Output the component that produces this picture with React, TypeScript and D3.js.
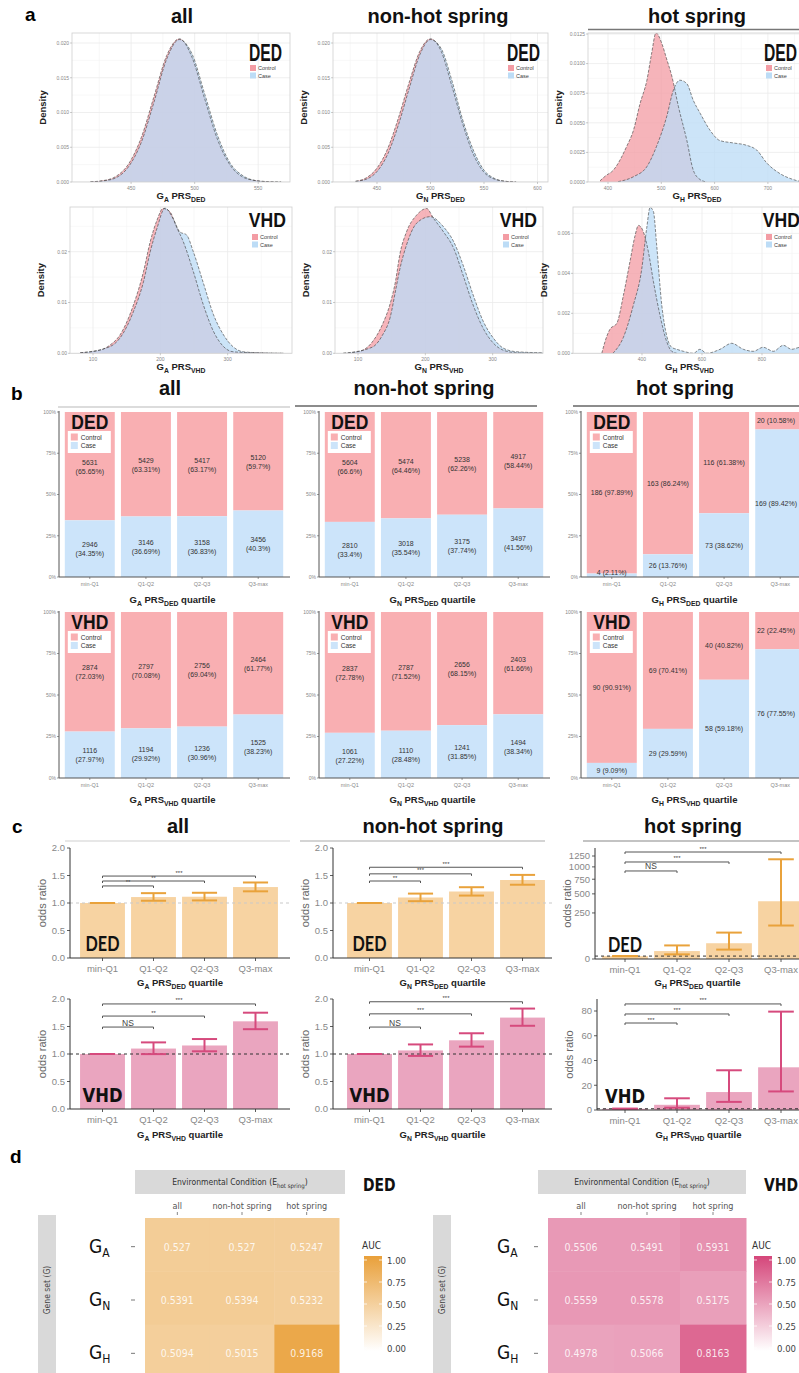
import React from "react";
import * as d3 from "d3";

// ===================== DATA =====================
const quartiles = ["min-Q1", "Q1-Q2", "Q2-Q3", "Q3-max"];
const envConditions = ["all", "non-hot spring", "hot spring"];
const geneSets = ["A", "N", "H"];

// ---- panel a: density curves (PRS value, density)
const aAllDedX = [418, 428, 438, 448, 458, 468, 478, 488, 498, 508, 518, 528, 538, 548, 558, 568];
const aAllDedControl = [0.00003, 0.0002, 0.0008, 0.0026, 0.0064, 0.0123, 0.0182, 0.0206, 0.0179, 0.0119, 0.0061, 0.0024, 0.0007, 0.0002, 0.00004, 0];
const aAllDedCase = [0.00002, 0.00015, 0.0006, 0.0022, 0.0057, 0.0115, 0.0177, 0.0205, 0.0184, 0.0126, 0.0067, 0.0027, 0.0009, 0.0002, 0.00005, 0];

const aNonDedX = [430, 440, 450, 460, 470, 480, 490, 500, 510, 520, 530, 540, 550, 560, 570, 580];
const aNonDedControl = [0.0001, 0.0006, 0.002, 0.0048, 0.0092, 0.0143, 0.0188, 0.0206, 0.0188, 0.0138, 0.0084, 0.004, 0.0014, 0.0004, 0.0001, 0];
const aNonDedCase = [0.0001, 0.0004, 0.0015, 0.004, 0.0082, 0.0134, 0.0183, 0.0205, 0.0192, 0.0146, 0.009, 0.0046, 0.0017, 0.0005, 0.0001, 0];

const aHotDedControlX = [385, 395, 410, 435, 448, 460, 473, 482, 490, 501, 510, 520, 532, 548, 560, 573, 585];
const aHotDedControl = [0.0001, 0.0005, 0.001, 0.003, 0.0044, 0.0066, 0.0086, 0.0109, 0.0126, 0.0117, 0.0104, 0.0089, 0.0064, 0.0035, 0.001, 0.0002, 0];
const aHotDedCaseX = [419, 448, 473, 491, 510, 523, 535, 548, 560, 573, 591, 610, 635, 660, 679, 698, 723, 748, 765];
const aHotDedCase = [0.00003, 0.00045, 0.0013, 0.003, 0.0055, 0.0078, 0.0086, 0.0083, 0.0069, 0.0058, 0.0044, 0.0035, 0.0033, 0.0031, 0.0027, 0.0016, 0.0007, 0.0002, 0];

const aAllVhdControlX = [81, 110, 125, 140, 160, 175, 185, 195, 204, 214, 224, 234, 249, 264, 279, 294, 308, 338, 383];
const aAllVhdControl = [0.0001, 0.0006, 0.0016, 0.0036, 0.0095, 0.0161, 0.022, 0.0262, 0.0285, 0.0279, 0.0249, 0.022, 0.0161, 0.0095, 0.0043, 0.0013, 0.0003, 0.0001, 0];
const aAllVhdCaseX = [81, 125, 140, 160, 175, 185, 195, 207, 219, 229, 239, 249, 264, 279, 294, 308, 323, 347, 383];
const aAllVhdCase = [0.0001, 0.0013, 0.003, 0.0082, 0.0141, 0.02, 0.0246, 0.0286, 0.0265, 0.0239, 0.0233, 0.02, 0.0138, 0.0076, 0.0036, 0.0013, 0.0003, 0.0001, 0];

const aNonVhdControlX = [78, 103, 121, 136, 148, 156, 162, 172, 187, 202, 212, 227, 242, 256, 271, 286, 301, 316, 336, 375];
const aNonVhdControl = [0, 0.0004, 0.0022, 0.0056, 0.0099, 0.0144, 0.0194, 0.0239, 0.0272, 0.0285, 0.0266, 0.0239, 0.0207, 0.0154, 0.0095, 0.0049, 0.002, 0.0006, 0.0001, 0];
const aNonVhdCaseX = [78, 121, 136, 148, 156, 162, 172, 187, 207, 227, 242, 256, 271, 286, 301, 316, 336, 375];
const aNonVhdCase = [0, 0.0012, 0.0035, 0.0072, 0.0125, 0.0165, 0.0213, 0.0256, 0.0269, 0.0249, 0.022, 0.0174, 0.0115, 0.0063, 0.003, 0.001, 0.0003, 0.0001];

const aHotVhdControlX = [266, 277, 293, 316, 338, 360, 377, 388, 404, 421, 438, 460, 482, 499, 516];
const aHotVhdControl = [0, 0.0006, 0.0012, 0.0015, 0.0029, 0.0046, 0.0059, 0.0064, 0.0061, 0.0051, 0.0036, 0.0019, 0.0006, 0.0001, 0];
const aHotVhdCaseX = [303, 338, 371, 399, 416, 427, 438, 449, 466, 482, 499, 516, 538, 571, 593, 616, 660, 699, 738, 771, 804, 838, 871, 899, 927, 960];
const aHotVhdCase = [0, 0.0008, 0.0024, 0.0042, 0.0063, 0.0073, 0.0071, 0.0054, 0.0024, 0.0009, 0.0003, 0.0002, 0.0001, 0, 0.0002, 0, 0.0002, 0.0005, 0.0002, 0.0001, 0.0003, 0.0001, 0.0004, 0.0002, 0.0003, 0.0001];

// ---- panel b: counts per quartile
const bAllDedControl = [5631, 5429, 5417, 5120];
const bAllDedCase = [2946, 3146, 3158, 3456];
const bNonDedControl = [5604, 5474, 5238, 4917];
const bNonDedCase = [2810, 3018, 3175, 3497];
const bHotDedControl = [186, 163, 116, 20];
const bHotDedCase = [4, 26, 73, 169];
const bAllVhdControl = [2874, 2797, 2756, 2464];
const bAllVhdCase = [1116, 1194, 1236, 1525];
const bNonVhdControl = [2837, 2787, 2656, 2403];
const bNonVhdCase = [1061, 1110, 1241, 1494];
const bHotVhdControl = [90, 69, 40, 22];
const bHotVhdCase = [9, 29, 58, 76];

// ---- panel c: odds ratios with CI
const cAllDedOR = [1, 1.108, 1.114, 1.29];
const cAllDedLo = [1, 1.041, 1.047, 1.212];
const cAllDedHi = [1, 1.179, 1.186, 1.373];
const cAllDedSig = ["**", "**", "***"];
const cAllDedSigY = [1.31, 1.4, 1.49];

const cNonDedOR = [1, 1.1, 1.209, 1.418];
const cNonDedLo = [1, 1.033, 1.135, 1.332];
const cNonDedHi = [1, 1.171, 1.287, 1.511];
const cNonDedSig = ["**", "***", "***"];
const cNonDedSigY = [1.4, 1.53, 1.65];

const cHotDedOR = [1, 7.42, 29.3, 393];
const cHotDedLo = [1, 2.53, 10.4, 132];
const cHotDedHi = [1, 21.7, 82.2, 1172];
const cHotDedSig = ["NS", "***", "***"];
const cHotDedSigY = [913, 1109, 1349];

const cAllVhdOR = [1, 1.099, 1.155, 1.594];
const cAllVhdLo = [1, 0.998, 1.049, 1.451];
const cAllVhdHi = [1, 1.211, 1.272, 1.751];
const cAllVhdSig = ["NS", "**", "***"];
const cAllVhdSigY = [1.49, 1.69, 1.91];

const cNonVhdOR = [1, 1.065, 1.249, 1.662];
const cNonVhdLo = [1, 0.965, 1.134, 1.513];
const cNonVhdHi = [1, 1.174, 1.377, 1.826];
const cNonVhdSig = ["NS", "***", "***"];
const cNonVhdSigY = [1.49, 1.73, 1.95];

const cHotVhdOR = [1, 4.2, 14.5, 34.5];
const cHotVhdLo = [1, 1.87, 6.55, 15.0];
const cHotVhdHi = [1, 9.46, 32.1, 79.5];
const cHotVhdSig = ["***", "***", "***"];
const cHotVhdSigY = [70.3, 77.6, 85.7];

// ---- panel d: AUC heatmaps (rows G_A, G_N, G_H; cols all / non-hot / hot)
const aucDedGA = [0.527, 0.527, 0.5247];
const aucDedGN = [0.5391, 0.5394, 0.5232];
const aucDedGH = [0.5094, 0.5015, 0.9168];
const aucVhdGA = [0.5506, 0.5491, 0.5931];
const aucVhdGN = [0.5559, 0.5578, 0.5175];
const aucVhdGH = [0.4978, 0.5066, 0.8163];
const aucTicks = [0, 0.25, 0.5, 0.75, 1];

// ===================== STYLE =====================
const FONT = "'Liberation Sans', Arial, sans-serif";
const NARROW = "'Liberation Sans Narrow', 'DejaVu Sans Condensed', 'Liberation Sans', sans-serif";
const CAL = "Lato, 'Open Sans', sans-serif";
const CTRL_A = "#f39ca4";
const CASE_A = "#bcdcf6";
const CTRL_B = "#f9afb2";
const CASE_B = "#cce4fa";

function subTspans(parts: [string, string][], size: number) {
  const off = size * 0.3;
  let shifted = false;
  const out: any[] = [];
  parts.forEach(([n, s], i) => {
    out.push(
      <tspan key={"n" + i} dy={shifted ? -off : 0} fontSize={size}>
        {n}
      </tspan>
    );
    shifted = false;
    if (s) {
      out.push(
        <tspan key={"s" + i} dy={off} fontSize={size * 0.72}>
          {s}
        </tspan>
      );
      shifted = true;
    }
  });
  return out;
}

// ===================== PANEL A =====================
const densityCfgs = [
  { key: "a1", x0: 72, x1: 290, y0: 33, y1: 182, xDomain: [403.5, 575], xTicks: [450, 500, 550], yDomain: [0, 0.02144], yTicks: [0, 0.005, 0.01, 0.015, 0.02], yFmt: ".3f", cx: aAllDedX, cy: aAllDedControl, kx: aAllDedX, ky: aAllDedCase, label: "DED", g: "A", sub: "DED", lblSize: 23, lblSx: 0.68, lblBase: 28, legY: 32, lblR: 8 },
  { key: "a2", x0: 333, x1: 548, y0: 33, y1: 182, xDomain: [408.9, 609.8], xTicks: [450, 500, 550, 600], yDomain: [0, 0.02144], yTicks: [0, 0.005, 0.01, 0.015, 0.02], yFmt: ".3f", cx: aNonDedX, cy: aNonDedControl, kx: aNonDedX, ky: aNonDedCase, label: "DED", g: "N", sub: "DED", lblSize: 23, lblSx: 0.68, lblBase: 28, legY: 32, lblR: 8 },
  { key: "a3", x0: 588, x1: 806, y0: 33, y1: 182, xDomain: [362.5, 771.5], xTicks: [400, 500, 600, 700], yDomain: [0, 0.012584], yTicks: [0, 0.0025, 0.005, 0.0075, 0.01, 0.0125], yFmt: ".4f", cx: aHotDedControlX, cy: aHotDedControl, kx: aHotDedCaseX, ky: aHotDedCase, label: "DED", g: "H", sub: "DED", lblSize: 23, lblSx: 0.68, lblBase: 28, legY: 32, lblR: 9 },
  { key: "a4", x0: 70, x1: 292, y0: 207, y1: 353.3, xDomain: [65.8, 395.6], xTicks: [100, 200, 300], yDomain: [0, 0.0288], yTicks: [0, 0.01, 0.02], yFmt: ".2f", cx: aAllVhdControlX, cy: aAllVhdControl, kx: aAllVhdCaseX, ky: aAllVhdCase, label: "VHD", g: "A", sub: "VHD", lblSize: 20, lblSx: 0.88, lblBase: 20, legY: 27, lblR: 6 },
  { key: "a5", x0: 335, x1: 543, y0: 207, y1: 353.3, xDomain: [65.8, 374.8], xTicks: [100, 200, 300], yDomain: [0, 0.0288], yTicks: [0, 0.01, 0.02], yFmt: ".2f", cx: aNonVhdControlX, cy: aNonVhdControl, kx: aNonVhdCaseX, ky: aNonVhdCase, label: "VHD", g: "N", sub: "VHD", lblSize: 20, lblSx: 0.88, lblBase: 20, legY: 27, lblR: 6 },
  { key: "a6", x0: 573, x1: 806, y0: 207, y1: 353.3, xDomain: [170, 946.7], xTicks: [400, 600, 800], yDomain: [0, 0.00732], yTicks: [0, 0.002, 0.004, 0.006], yFmt: ".3f", cx: aHotVhdControlX, cy: aHotVhdControl, kx: aHotVhdCaseX, ky: aHotVhdCase, label: "VHD", g: "H", sub: "VHD", lblSize: 20, lblSx: 0.88, lblBase: 20, legY: 27, lblR: 6 },
];

function DensityPanel({ c }: any) {
  const x = d3.scaleLinear().domain(c.xDomain).range([c.x0, c.x1]);
  const y = d3.scaleLinear().domain(c.yDomain).range([c.y1, c.y0]);
  const area = d3
    .area<number[]>()
    .x((d) => x(d[0]))
    .y0(y(0))
    .y1((d) => y(d[1]))
    .curve(d3.curveMonotoneX);
  const line = d3
    .line<number[]>()
    .x((d) => x(d[0]))
    .y((d) => y(d[1]))
    .curve(d3.curveMonotoneX);
  const ctrl = c.cx.map((v: number, i: number) => [v, c.cy[i]]);
  const cas = c.kx.map((v: number, i: number) => [v, c.ky[i]]);
  const fmt = d3.format(c.yFmt);
  const xs = c.xTicks[1] - c.xTicks[0];
  const ys = c.yTicks[1] - c.yTicks[0];
  const xMinor = d3.range(c.xTicks[0] - xs * 1.5, c.xDomain[1], xs).filter((v: number) => v > c.xDomain[0]);
  const yMinor = d3.range(ys / 2, c.yDomain[1], ys);
  const clip = "clip-" + c.key;
  const cxMid = (c.x0 + c.x1) / 2;
  return (
    <g>
      <defs>
        <clipPath id={clip}>
          <rect x={c.x0} y={c.y0} width={c.x1 - c.x0} height={c.y1 - c.y0} />
        </clipPath>
      </defs>
      <g clipPath={`url(#${clip})`}>
        {xMinor.map((v: number, i: number) => (
          <line key={"xm" + i} x1={x(v)} x2={x(v)} y1={c.y0} y2={c.y1} stroke="#f4f4f4" strokeWidth={0.6} />
        ))}
        {yMinor.map((v: number, i: number) => (
          <line key={"ym" + i} x1={c.x0} x2={c.x1} y1={y(v)} y2={y(v)} stroke="#f4f4f4" strokeWidth={0.6} />
        ))}
        {c.xTicks.map((v: number, i: number) => (
          <line key={"xg" + i} x1={x(v)} x2={x(v)} y1={c.y0} y2={c.y1} stroke="#ebebeb" strokeWidth={0.8} />
        ))}
        {c.yTicks.map((v: number, i: number) => (
          <line key={"yg" + i} x1={c.x0} x2={c.x1} y1={y(v)} y2={y(v)} stroke="#ebebeb" strokeWidth={0.8} />
        ))}
        <path d={area(ctrl) || ""} fill={CTRL_A} fillOpacity={0.76} />
        <path d={area(cas) || ""} fill={CASE_A} fillOpacity={0.76} />
        <path d={line(ctrl) || ""} fill="none" stroke="#3a3a3a" strokeWidth={0.6} strokeDasharray="3 1.5" />
        <path d={line(cas) || ""} fill="none" stroke="#3a3a3a" strokeWidth={0.6} strokeDasharray="3 1.5" />
      </g>
      <rect x={c.x0} y={c.y0} width={c.x1 - c.x0} height={c.y1 - c.y0} fill="none" stroke="#cfcfcf" strokeWidth={0.8} />
      {c.yTicks.map((v: number, i: number) => (
        <g key={"yt" + i}>
          <line x1={c.x0 - 2} x2={c.x0} y1={y(v)} y2={y(v)} stroke="#999" strokeWidth={0.5} />
          <text x={c.x0 - 3} y={y(v) + 1.8} fontSize={5} fill="#888" textAnchor="end">
            {fmt(v)}
          </text>
        </g>
      ))}
      {c.xTicks.map((v: number, i: number) => (
        <g key={"xt" + i}>
          <line x1={x(v)} x2={x(v)} y1={c.y1} y2={c.y1 + 2} stroke="#999" strokeWidth={0.5} />
          <text x={x(v)} y={c.y1 + 8} fontSize={5} fill="#888" textAnchor="middle">
            {v}
          </text>
        </g>
      ))}
      <text transform={`translate(${c.x0 - 26},${(c.y0 + c.y1) / 2}) rotate(-90)`} textAnchor="middle" fontSize={9.5} fontWeight="bold" fill="#222">
        Density
      </text>
      <text x={cxMid} y={c.y1 + 17} textAnchor="middle" fontWeight="bold" fill="#222">
        {subTspans([["G", c.g], [" PRS", c.sub]], 9.5)}
      </text>
      <text transform={`translate(${c.x1 - c.lblR},${c.y0 + c.lblBase}) scale(${c.lblSx},1)`} textAnchor="end" fontSize={c.lblSize} fontWeight="bold" fill="#111">
        {c.label}
      </text>
      <rect x={c.x1 - 40} y={c.y0 + c.legY} width={6} height={6} fill={CTRL_A} />
      <rect x={c.x1 - 40} y={c.y0 + c.legY + 7.5} width={6} height={6} fill={CASE_A} />
      <text x={c.x1 - 32} y={c.y0 + c.legY + 5} fontSize={5.5} fill="#444">
        Control
      </text>
      <text x={c.x1 - 32} y={c.y0 + c.legY + 12.5} fontSize={5.5} fill="#444">
        Case
      </text>
    </g>
  );
}

// ===================== PANEL B =====================
const barCfgs = [
  { key: "b1", xr: [62, 286], yt: 412, yb: 577, ctrl: bAllDedControl, cas: bAllDedCase, two: true, label: "DED", g: "A", sub: "DED", titleY: 603 },
  { key: "b2", xr: [322, 546], yt: 412, yb: 577, ctrl: bNonDedControl, cas: bNonDedCase, two: true, label: "DED", g: "N", sub: "DED", titleY: 603 },
  { key: "b3", xr: [584, 808], yt: 412, yb: 577, ctrl: bHotDedControl, cas: bHotDedCase, two: false, label: "DED", g: "H", sub: "DED", titleY: 603 },
  { key: "b4", xr: [62, 286], yt: 612, yb: 778, ctrl: bAllVhdControl, cas: bAllVhdCase, two: true, label: "VHD", g: "A", sub: "VHD", titleY: 803 },
  { key: "b5", xr: [322, 546], yt: 612, yb: 778, ctrl: bNonVhdControl, cas: bNonVhdCase, two: true, label: "VHD", g: "N", sub: "VHD", titleY: 803 },
  { key: "b6", xr: [584, 808], yt: 612, yb: 778, ctrl: bHotVhdControl, cas: bHotVhdCase, two: false, label: "VHD", g: "H", sub: "VHD", titleY: 803 },
];

const pctFmt = (v: number) => `${+(v * 100).toFixed(2)}%`;

function StackPanel({ c }: any) {
  const xb = d3.scaleBand().domain(quartiles).range(c.xr).paddingInner(0.11).paddingOuter(0.05);
  const y = d3.scaleLinear().domain([0, 1]).range([c.yb, c.yt]);
  const ax = c.xr[0] - 3;
  const bw = xb.bandwidth();
  const ticks = [0, 0.25, 0.5, 0.75, 1];
  const x1 = xb(quartiles[0]) as number;
  return (
    <g>
      {quartiles.map((q, i) => {
        const tot = c.ctrl[i] + c.cas[i];
        const pc = c.cas[i] / tot;
        const bx = xb(q) as number;
        const mx = bx + bw / 2;
        const lx = Math.min(mx, 776);
        const yCtrlMid = (y(1) + y(pc)) / 2;
        const yCaseMid = (y(pc) + y(0)) / 2;
        const ctrlTxt = [String(c.ctrl[i]), `(${pctFmt(1 - pc)})`];
        const caseTxt = [String(c.cas[i]), `(${pctFmt(pc)})`];
        return (
          <g key={q}>
            <rect x={bx} y={y(1)} width={bw} height={y(pc) - y(1)} fill={CTRL_B} />
            <rect x={bx} y={y(pc)} width={bw} height={y(0) - y(pc)} fill={CASE_B} />
            {c.two ? (
              <g fontSize={7} fill="#333" textAnchor="middle">
                <text x={mx} y={yCtrlMid - 1.5}>{ctrlTxt[0]}</text>
                <text x={mx} y={yCtrlMid + 7.5}>{ctrlTxt[1]}</text>
                <text x={mx} y={yCaseMid - 1.5}>{caseTxt[0]}</text>
                <text x={mx} y={yCaseMid + 7.5}>{caseTxt[1]}</text>
              </g>
            ) : (
              <g fontSize={7} fill="#333" textAnchor="middle">
                <text x={lx} y={yCtrlMid + 2.5}>{ctrlTxt.join(" ")}</text>
                <text x={lx} y={Math.min(yCaseMid + 2.5, c.yb - 2)}>{caseTxt.join(" ")}</text>
              </g>
            )}
            <line x1={mx} x2={mx} y1={c.yb} y2={c.yb + 2} stroke="#555" strokeWidth={0.6} />
            <text x={mx} y={c.yb + 9} fontSize={5.5} fill="#888" textAnchor="middle">
              {q}
            </text>
          </g>
        );
      })}
      <line x1={ax} x2={ax} y1={c.yt - 1} y2={c.yb} stroke="#555" strokeWidth={1} />
      <line x1={ax} x2={c.xr[1] + 4} y1={c.yb} y2={c.yb} stroke="#555" strokeWidth={1} />
      {ticks.map((t) => (
        <g key={t}>
          <line x1={ax - 2} x2={ax} y1={y(t)} y2={y(t)} stroke="#555" strokeWidth={0.6} />
          <text x={ax - 3} y={y(t) + 1.8} fontSize={5} fill="#888" textAnchor="end">
            {`${t * 100}%`}
          </text>
        </g>
      ))}
      <text transform={`translate(${x1 + bw / 2},${c.yt + 17}) scale(0.835,1)`} textAnchor="middle" fontSize={21} fontWeight="bold" fill="#111">
        {c.label}
      </text>
      <rect x={x1 + 3} y={c.yt + 19} width={43} height={22} fill="#fff" />
      <rect x={x1 + 6} y={c.yt + 21.5} width={7} height={7} fill={CTRL_B} />
      <rect x={x1 + 6} y={c.yt + 30} width={7} height={7} fill={CASE_B} />
      <text x={x1 + 16} y={c.yt + 27.5} fontSize={6.5} fill="#333">
        Control
      </text>
      <text x={x1 + 16} y={c.yt + 36} fontSize={6.5} fill="#333">
        Case
      </text>
      <text x={(ax + c.xr[1]) / 2} y={c.titleY} textAnchor="middle" fontWeight="bold" fill="#222">
        {subTspans([["G", c.g], [" PRS", c.sub], [" quartile", ""]], 9.5)}
      </text>
    </g>
  );
}

// ===================== PANEL C =====================
const DED_BAR = "#f7d3a2";
const DED_ERR = "#e9a23b";
const VHD_BAR = "#eaa5bf";
const VHD_ERR = "#d64a7d";

const oddsCfgs = [
  { key: "c1", xr: [77, 281], ax: 70, aEnd: 290, yt: 848, yb: 958, yDomain: [0, 2], yTicks: [0, 0.5, 1, 1.5, 2], fmt: ".1f", sqrt: false, or: cAllDedOR, lo: cAllDedLo, hi: cAllDedHi, sig: cAllDedSig, sigY: cAllDedSigY, bar: DED_BAR, err: DED_ERR, dash: "#c9c9c9", label: "DED", g: "A", sub: "DED", titleY: 986 },
  { key: "c2", xr: [344, 548], ax: 333, aEnd: 552, yt: 848, yb: 958, yDomain: [0, 2], yTicks: [0, 0.5, 1, 1.5, 2], fmt: ".1f", sqrt: false, or: cNonDedOR, lo: cNonDedLo, hi: cNonDedHi, sig: cNonDedSig, sigY: cNonDedSigY, bar: DED_BAR, err: DED_ERR, dash: "#c9c9c9", label: "DED", g: "N", sub: "DED", titleY: 986 },
  { key: "c3", xr: [599, 807], ax: 595, aEnd: 810, yt: 848, yb: 959, yDomain: [0, 1452], yTicks: [0, 250, 500, 750, 1000, 1250], fmt: "d", sqrt: true, or: cHotDedOR, lo: cHotDedLo, hi: cHotDedHi, sig: cHotDedSig, sigY: cHotDedSigY, bar: DED_BAR, err: DED_ERR, dash: "#333", label: "DED", g: "H", sub: "DED", titleY: 986 },
  { key: "c4", xr: [77, 281], ax: 70, aEnd: 290, yt: 999, yb: 1109, yDomain: [0, 2], yTicks: [0, 0.5, 1, 1.5, 2], fmt: ".1f", sqrt: false, or: cAllVhdOR, lo: cAllVhdLo, hi: cAllVhdHi, sig: cAllVhdSig, sigY: cAllVhdSigY, bar: VHD_BAR, err: VHD_ERR, dash: "#333", label: "VHD", g: "A", sub: "VHD", titleY: 1138 },
  { key: "c5", xr: [344, 548], ax: 333, aEnd: 552, yt: 999, yb: 1109, yDomain: [0, 2], yTicks: [0, 0.5, 1, 1.5, 2], fmt: ".1f", sqrt: false, or: cNonVhdOR, lo: cNonVhdLo, hi: cNonVhdHi, sig: cNonVhdSig, sigY: cNonVhdSigY, bar: VHD_BAR, err: VHD_ERR, dash: "#333", label: "VHD", g: "N", sub: "VHD", titleY: 1138 },
  { key: "c6", xr: [599, 807], ax: 597, aEnd: 810, yt: 999, yb: 1110, yDomain: [0, 89.7], yTicks: [0, 20, 40, 60, 80], fmt: "d", sqrt: false, or: cHotVhdOR, lo: cHotVhdLo, hi: cHotVhdHi, sig: cHotVhdSig, sigY: cHotVhdSigY, bar: VHD_BAR, err: VHD_ERR, dash: "#333", label: "VHD", g: "H", sub: "VHD", titleY: 1138 },
];

function OddsPanel({ c }: any) {
  const xb = d3.scaleBand().domain(quartiles).range(c.xr).paddingInner(0.12).paddingOuter(0.06);
  const y = (c.sqrt ? d3.scaleSqrt() : d3.scaleLinear()).domain(c.yDomain).range([c.yb, c.yt]);
  const bw = xb.bandwidth();
  const cen = (q: string) => (xb(q) as number) + bw / 2;
  const fmt = d3.format(c.fmt);
  const capW = bw * 0.56;
  const isDed = c.label === "DED";
  return (
    <g>
      {quartiles.map((q, i) => (
        <rect key={"b" + q} x={xb(q)} y={y(c.or[i])} width={bw} height={y(0) - y(c.or[i])} fill={c.bar} />
      ))}
      <line x1={c.ax} x2={c.aEnd} y1={y(1)} y2={y(1)} stroke={c.dash} strokeWidth={1} strokeDasharray="3 3" />
      {quartiles.map((q, i) => {
        const m = cen(q);
        return (
          <g key={"e" + q} stroke={c.err} strokeWidth={2}>
            <line x1={m} x2={m} y1={y(c.lo[i])} y2={y(c.hi[i])} />
            <line x1={m - capW / 2} x2={m + capW / 2} y1={y(c.lo[i])} y2={y(c.lo[i])} />
            <line x1={m - capW / 2} x2={m + capW / 2} y1={y(c.hi[i])} y2={y(c.hi[i])} />
          </g>
        );
      })}
      {c.sig.map((s: string, k: number) => {
        const xa = cen(quartiles[0]);
        const xe = cen(quartiles[k + 1]);
        const yy = y(c.sigY[k]);
        return (
          <g key={"s" + k}>
            <path d={`M${xa},${yy + 2}V${yy}H${xe}V${yy + 2}`} fill="none" stroke="#555" strokeWidth={1} />
            <text x={(xa + xe) / 2} y={yy - 1.5} textAnchor="middle" fontSize={s === "NS" ? 8.5 : 6} fill="#444">
              {s}
            </text>
          </g>
        );
      })}
      <line x1={c.ax} x2={c.ax} y1={c.yt} y2={c.yb} stroke="#333" strokeWidth={1} />
      <line x1={c.ax} x2={c.aEnd} y1={c.yb} y2={c.yb} stroke="#333" strokeWidth={1} />
      {c.yTicks.map((t: number) => (
        <g key={"yt" + t}>
          <line x1={c.ax - 3} x2={c.ax} y1={y(t)} y2={y(t)} stroke="#333" strokeWidth={0.8} />
          <text x={c.ax - 5} y={y(t) + 3.3} textAnchor="end" fontSize={9.5} fill="#888">
            {fmt(t)}
          </text>
        </g>
      ))}
      {quartiles.map((q) => (
        <g key={"xt" + q}>
          <line x1={cen(q)} x2={cen(q)} y1={c.yb} y2={c.yb + 3} stroke="#333" strokeWidth={0.8} />
          <text x={cen(q)} y={c.yb + 14} textAnchor="middle" fontSize={9.5} fill="#888">
            {q}
          </text>
        </g>
      ))}
      <text transform={`translate(${c.ax - 24},${(c.yt + c.yb) / 2}) rotate(-90)`} textAnchor="middle" fontSize={11} fill="#666">
        odds ratio
      </text>
      <text
        x={cen(quartiles[0])}
        y={c.yb - 7}
        textAnchor="middle"
        fontSize={20}
        fontWeight="bold"
        fill="#111"
        fontFamily={isDed ? CAL : NARROW}
        textLength={isDed ? 34 : 40}
        lengthAdjust="spacingAndGlyphs"
      >
        {c.label}
      </text>
      <text x={(c.ax + Math.min(c.aEnd, 800)) / 2} y={c.titleY} textAnchor="middle" fontWeight="bold" fill="#222">
        {subTspans([["G", c.g], [" PRS", c.sub], [" quartile", ""]], 9.5)}
      </text>
    </g>
  );
}

// ===================== PANEL D =====================
const heatCfgs = [
  { key: "d1", x0: 145, x1: 339, y0: 1218, y1: 1378, rows: [aucDedGA, aucDedGN, aucDedGH], color: "#e9a03a", label: "DED", stripX: 135, stripW: 210, labelX: 363, gX: 89, sideX: 38, barX: 364 },
  { key: "d2", x0: 548, x1: 746, y0: 1218, y1: 1378, rows: [aucVhdGA, aucVhdGN, aucVhdGH], color: "#d5467a", label: "VHD", stripX: 538, stripW: 208, labelX: 764, gX: 497, sideX: 433, barX: 754 },
];

function Heatmap({ c }: any) {
  const xb = d3.scaleBand().domain(envConditions).range([c.x0, c.x1]);
  const yb = d3.scaleBand().domain(geneSets).range([c.y0, c.y1]);
  const col = d3.scaleLinear<string>().domain([0, 1]).range(["#ffffff", c.color]);
  const cb = d3.scaleLinear().domain([0, 1]).range([1348, 1260]);
  const gid = "grad-" + c.key;
  return (
    <g fontFamily={NARROW}>
      <defs>
        <linearGradient id={gid} x1="0" y1="1" x2="0" y2="0">
          <stop offset="0%" stopColor={col(0)} />
          <stop offset="100%" stopColor={col(1)} />
        </linearGradient>
      </defs>
      <rect x={c.stripX} y={1170} width={c.stripW} height={24} fill="#d9d9d9" />
      <text x={c.stripX + c.stripW / 2} y={1185} textAnchor="middle" fill="#333">
        {subTspans([["Environmental Condition (E", "hot spring"], [")", ""]], 8.5)}
      </text>
      <text transform={`translate(${c.labelX},1191) scale(0.86,1)`} fontSize={18} fontWeight="bold" fill="#111">
        {c.label}
      </text>
      <rect x={c.sideX} y={1215} width={18} height={170} fill="#d9d9d9" />
      <text transform={`translate(${c.sideX + 12},1290) rotate(-90)`} textAnchor="middle" fontSize={8.5} fill="#444">
        Gene set (G)
      </text>
      {envConditions.map((e) => (
        <g key={e}>
          <text x={(xb(e) as number) + xb.bandwidth() / 2} y={1209} textAnchor="middle" fontSize={9} fill="#555">
            {e}
          </text>
          <line x1={(xb(e) as number) + xb.bandwidth() / 2} x2={(xb(e) as number) + xb.bandwidth() / 2} y1={1212} y2={1215} stroke="#555" strokeWidth={0.7} />
        </g>
      ))}
      {geneSets.map((g, r) =>
        envConditions.map((e, k) => (
          <rect key={"r" + g + e} x={xb(e)} y={yb(g)} width={xb.bandwidth() + 0.5} height={yb.bandwidth() + 0.5} fill={col(c.rows[r][k])} />
        ))
      )}
      {geneSets.map((g, r) =>
        envConditions.map((e, k) => (
          <text key={"t" + g + e} x={(xb(e) as number) + xb.bandwidth() / 2} y={(yb(g) as number) + yb.bandwidth() / 2 + 6} textAnchor="middle" fontSize={10.5} fill="#fff" fillOpacity={0.85}>
            {String(c.rows[r][k])}
          </text>
        ))
      )}
      {geneSets.map((g) => {
        const yy = (yb(g) as number) + yb.bandwidth() / 2;
        return (
          <g key={"rl" + g}>
            <text x={c.gX} y={yy + 8} fill="#111">
              <tspan fontSize={19}>G</tspan>
              <tspan fontSize={12} dy={4}>
                {g}
              </tspan>
            </text>
            <line x1={c.x0 - 14} x2={c.x0 - 10} y1={yy + 2} y2={yy + 2} stroke="#555" strokeWidth={0.8} />
          </g>
        );
      })}
      <text x={c.barX - 2} y={1249} fontSize={10} fill="#333">
        AUC
      </text>
      <rect x={c.barX} y={1256} width={18} height={95} fill={`url(#${gid})`} />
      {aucTicks.map((t) => (
        <g key={"cb" + t}>
          <line x1={c.barX} x2={c.barX + 3} y1={cb(t)} y2={cb(t)} stroke="#fff" strokeWidth={0.8} />
          <line x1={c.barX + 15} x2={c.barX + 18} y1={cb(t)} y2={cb(t)} stroke="#fff" strokeWidth={0.8} />
          <text x={c.barX + 23} y={cb(t) + 3.5} fontSize={9.5} fill="#444">
            {t.toFixed(2)}
          </text>
        </g>
      ))}
    </g>
  );
}

// ===================== APP =====================
function Title({ x, y, t }: any) {
  return (
    <text x={x} y={y} textAnchor="middle" fontSize={20} fontWeight="bold" fill="#111">
      {t}
    </text>
  );
}

export default function App() {
  return (
    <svg width={799} height={1373} viewBox="0 0 799 1373" style={{ position: "absolute", left: 0, top: 0, background: "#fff" }} fontFamily={FONT}>
      <rect width={799} height={1373} fill="#fff" />
      <text x={25} y={21} fontSize={19} fontWeight="bold">a</text>
      <text x={11} y={400} fontSize={19} fontWeight="bold">b</text>
      <text x={12} y={833} fontSize={19} fontWeight="bold">c</text>
      <text x={10} y={1163} fontSize={19} fontWeight="bold">d</text>

      <Title x={182} y={23} t="all" />
      <Title x={438} y={23} t="non-hot spring" />
      <Title x={697} y={23} t="hot spring" />
      <line x1={588} x2={799} y1={29.5} y2={29.5} stroke="#777" strokeWidth={1.3} />
      {densityCfgs.map((c) => (
        <DensityPanel key={c.key} c={c} />
      ))}

      <Title x={170} y={395} t="all" />
      <Title x={424} y={395} t="non-hot spring" />
      <Title x={685} y={395} t="hot spring" />
      <line x1={58} x2={290} y1={407} y2={407} stroke="#d0d0d0" strokeWidth={1.3} />
      <line x1={295} x2={537} y1={406} y2={406} stroke="#666" strokeWidth={1.3} />
      <line x1={573} x2={799} y1={406} y2={406} stroke="#666" strokeWidth={1.3} />
      {barCfgs.map((c) => (
        <StackPanel key={c.key} c={c} />
      ))}

      <Title x={178} y={833} t="all" />
      <Title x={433} y={833} t="non-hot spring" />
      <Title x={693} y={833} t="hot spring" />
      <line x1={65} x2={290} y1={841} y2={841} stroke="#d0d0d0" strokeWidth={1.2} />
      <line x1={300} x2={545} y1={841} y2={841} stroke="#aaa" strokeWidth={1.2} />
      <line x1={583} x2={799} y1={841} y2={841} stroke="#888" strokeWidth={1.2} />
      {oddsCfgs.map((c) => (
        <OddsPanel key={c.key} c={c} />
      ))}

      {heatCfgs.map((c) => (
        <Heatmap key={c.key} c={c} />
      ))}
    </svg>
  );
}
